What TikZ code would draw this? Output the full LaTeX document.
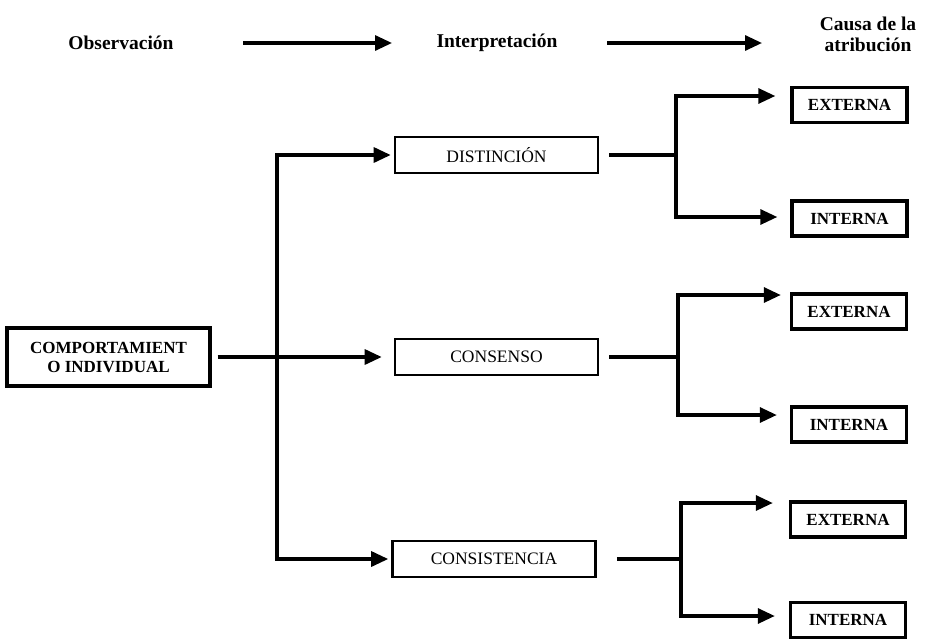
\documentclass[tikz,border=0pt]{standalone}
\usepackage{fontspec}
\setmainfont{Liberation Serif}
\usetikzlibrary{arrows.meta}
\begin{document}
\begin{tikzpicture}[x=1pt,y=-1pt,
  line/.style={line width=3.2pt},
  arr/.style={line width=3.2pt,-{Triangle[length=17pt,width=15pt]}},
  arrtwo/.style={line width=3.2pt,{Triangle[length=17pt,width=15pt]}-{Triangle[length=17pt,width=15pt]}},
  midbox/.style={draw,line width=2.6pt,minimum width=203pt,minimum height=36pt,inner sep=0pt,font=\fontsize{17.5}{20}\selectfont},
  endbox/.style={draw,line width=3.4pt,minimum width=115pt,minimum height=35pt,inner sep=0pt,font=\bfseries\fontsize{17}{20}\selectfont},
  startbox/.style={draw,line width=3.4pt,minimum width=203pt,minimum height=58pt,inner sep=0pt,align=center,font=\bfseries\fontsize{17}{19}\selectfont},
  head/.style={font=\bfseries\fontsize{19.5}{21}\selectfont,align=center}
]
\useasboundingbox (0,0) rectangle (929,638);
% header
\node[head] (obs) at (121,43) {Observación};
\node[head] (interp) at (497,43) {Interpretación};
\node[head] (causa) at (868,34) {Causa de la\\atribución};
\coordinate (a1s) at (243,43); \coordinate (a1e) at (392,43);
\coordinate (a2s) at (607,43); \coordinate (a2e) at (762,43);
\draw[arr] (a1s) -- (a1e);
\draw[arr] (a2s) -- (a2e);
% boxes
\node[startbox] (comp) at (108.5,357) {COMPORTAMIENT\\O INDIVIDUAL};
\node[midbox] (dist) at (496.5,155) {DISTINCIÓN};
\node[midbox] (cons) at (496.5,357) {CONSENSO};
\node[midbox] (consis) at (494,559) {CONSISTENCIA};
\node[endbox] (ext1) at (849.5,105) {EXTERNA};
\node[endbox] (int1) at (849.5,218.5) {INTERNA};
\node[endbox] (ext2) at (849,311.5) {EXTERNA};
\node[endbox] (int2) at (849,424.5) {INTERNA};
\node[endbox] (ext3) at (848,519.5) {EXTERNA};
\node[endbox] (int3) at (848,620) {INTERNA};
% left fan
\coordinate (j) at (277,357);
\draw[arr] ([xshift=6pt]comp.east) -- ([xshift=-12pt]cons.west);
\draw[arrtwo] ([xshift=-3pt]dist.west) -- (j |- dist.west) -- (j |- consis.west) -- ([xshift=-3pt]consis.west);
% right branches
\coordinate (t1) at (676,96);  \coordinate (u1) at (676,217);
\coordinate (t2) at (678,295); \coordinate (u2) at (678,415);
\coordinate (t3) at (681,503); \coordinate (u3) at (681,616);
\coordinate (e1) at ([xshift=-15pt]ext1.west); \coordinate (i1) at ([xshift=-13pt]int1.west);
\coordinate (e2) at ([xshift=-9pt]ext2.west);  \coordinate (i2) at ([xshift=-13pt]int2.west);
\coordinate (e3) at ([xshift=-16pt]ext3.west); \coordinate (i3) at ([xshift=-14pt]int3.west);
\draw[line] ([xshift=10pt]dist.east) -- (t1 |- dist.east);
\draw[line] ([xshift=10pt]cons.east) -- (t2 |- cons.east);
\draw[line] ([xshift=20pt]consis.east) -- (t3 |- consis.east);
\draw[arrtwo] (e1 |- t1) -- (t1) -- (u1) -- (i1 |- u1);
\draw[arrtwo] (e2 |- t2) -- (t2) -- (u2) -- (i2 |- u2);
\draw[arrtwo] (e3 |- t3) -- (t3) -- (u3) -- (i3 |- u3);
\end{tikzpicture}
\end{document}
